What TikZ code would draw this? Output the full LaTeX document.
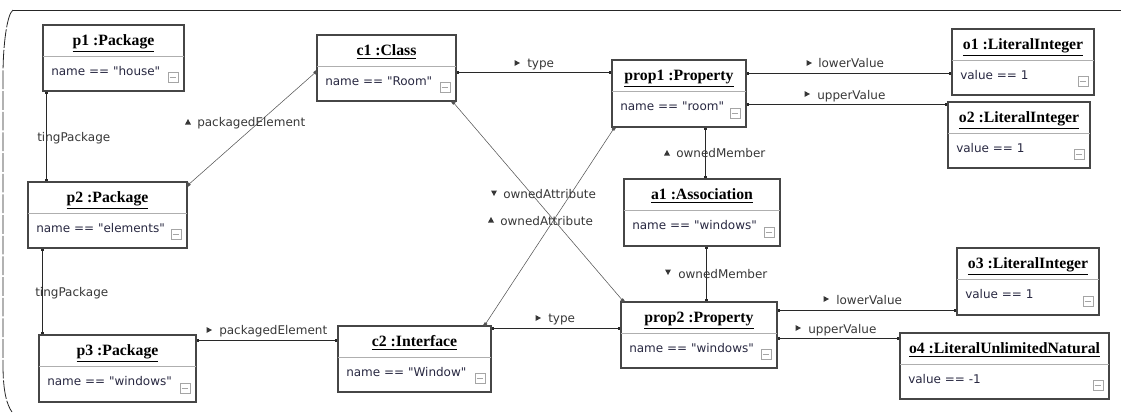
\documentclass[tikz,border=0pt]{standalone}
\usepackage{fontspec}
\setmainfont{DejaVu Sans}[Ligatures=TeXOff]
\newfontfamily\titlefont{Liberation Serif}
\usetikzlibrary{fit,calc,arrows.meta}

\definecolor{boxline}{RGB}{70,70,70}
\definecolor{divline}{RGB}{175,175,175}
\definecolor{bodyink}{RGB}{40,40,65}
\definecolor{labelink}{RGB}{55,55,55}
\definecolor{wireink}{RGB}{40,40,40}
\definecolor{iconline}{RGB}{165,165,165}

\tikzset{
  objbox/.style={draw=boxline, line width=0.8pt, inner sep=0pt, fill=white},
  divider/.style={draw=divline, line width=0.75pt},
  titletext/.style={font=\titlefont\bfseries\fontsize{11.8}{12}\selectfont,
    inner sep=0pt, text=black, text height=7.8pt, text depth=0pt},
  bodytext/.style={font=\fontsize{9}{10}\selectfont, text=bodyink, inner sep=0pt,
    anchor=west, text height=6.6pt, text depth=0pt},
  linklabel/.style={font=\fontsize{9}{10}\selectfont, text=labelink, inner sep=0pt,
    anchor=west, text height=6.6pt, text depth=0pt},
  wire/.style={draw=wireink, line width=0.75pt,
    arrows={Square[length=2.2pt,width=2.2pt]-Square[length=2.2pt,width=2.2pt]}},
  thinwire/.style={draw=wireink!80, line width=0.4pt,
    arrows={Square[length=2.2pt,width=2.2pt]-Square[length=2.2pt,width=2.2pt]}},
  foldbox/.style={draw=iconline, line width=0.5pt, fill=white,
    minimum size=7.5pt, inner sep=0pt},
  framewire/.style={draw=black!85, line width=0.6pt},
}

% object box: name, left, top, right, bottom, title, attribute line
\newcommand\umlobject[7]{%
  \node[objbox, fit={(#2,#3) (#4,#5)}] (#1) {};
  \draw[divider] (#2,#3+31) -- (#4,#3+31);
  \node[titletext] (#1-title) at ($(#1.north)+(0,16.3)$) {\underline{#6}};
  \node[bodytext] (#1-body) at (#2+8,#3+46.5) {#7};
  \node[foldbox] (#1-fold) at (#4-11,#5-13.5) {};
  \draw[iconline, line width=0.5pt] ($(#1-fold.west)+(2,0)$) -- ($(#1-fold.east)+(-2,0)$);
}

% small filled direction marker: x, y, angle (0 = right, 90 = up)
\newcommand\pointer[3]{%
  \fill[labelink, shift={(#1,#2)}, rotate=#3] (-2.5,-3) -- (-2.5,3) -- (3,0) -- cycle;}

\begin{document}
\begin{tikzpicture}[x=0.75pt, y=-0.75pt]
\useasboundingbox (0,0) rectangle (1121,412);

% enclosing frame
\draw[framewire] (1121,10) -- (13,10);
\draw[framewire, dash pattern=on 14pt off 1.5pt]
  (13,10) .. controls (7,14) and (3,45) .. (3,75) -- (3,365)
  .. controls (3,392) and (7,405) .. (12,412);

% objects
\umlobject{p1}{43}{25}{184}{91}{p1 :Package}{name == "house"}
\umlobject{p2}{28}{182}{187}{248}{p2 :Package}{name == "elements"}
\umlobject{p3}{39}{335}{196}{402}{p3 :Package}{name == "windows"}
\umlobject{c1}{317}{35}{456}{101}{c1 :Class}{name == "Room"}
\umlobject{c2}{338}{326}{491}{392}{c2 :Interface}{name == "Window"}
\umlobject{prop1}{612}{60}{746}{127}{prop1 :Property}{name == "room"}
\umlobject{a1}{624}{179}{780}{246}{a1 :Association}{name == "windows"}
\umlobject{prop2}{621}{302}{777}{368}{prop2 :Property}{name == "windows"}
\umlobject{o1}{952}{29}{1094}{95}{o1 :LiteralInteger}{value == 1}
\umlobject{o2}{948}{102}{1090}{168}{o2 :LiteralInteger}{value == 1}
\umlobject{o3}{957}{248}{1099}{315}{o3 :LiteralInteger}{value == 1}
\umlobject{o4}{900}{333}{1109}{399}{o4 :LiteralUnlimitedNatural}{value == -1}

% links
\draw[wire] ($(p1.south west)+(4,0)$) -- ($(p2.north west)+(19,0)$);
\draw[wire] ($(p2.south west)+(15,0)$) -- ($(p3.north west)+(4,0)$);
\draw[thinwire] ($(p2.north east)+(0,4)$) -- ($(c1.north west)+(0,37)$);
\draw[wire] ($(p3.north east)+(0,6)$) -- ($(c2.north west)+(0,15)$);
\draw[wire] ($(c1.north east)+(0,38)$) -- ($(prop1.north west)+(0,13)$);
\draw[thinwire] ($(c1.south east)+(-4,0)$) -- ($(prop2.north west)+(3,0)$);
\draw[thinwire] ($(c2.north east)+(-7,0)$) -- ($(prop1.south west)+(3,0)$);
\draw[wire] ($(c2.north east)+(0,3)$) -- ($(prop2.north west)+(0,27)$);
\draw[wire] ($(prop1.north east)+(0,14)$) -- ($(o1.north west)+(0,45)$);
\draw[wire] ($(prop1.north east)+(0,45)$) -- ($(o2.north west)+(0,3)$);
\draw[wire] ($(prop1.south west)+(94,0)$) -- ($(a1.north west)+(82,0)$);
\draw[wire] ($(a1.south west)+(83,0)$) -- ($(prop2.north west)+(86,0)$);
\draw[wire] ($(prop2.north east)+(0,9)$) -- ($(o3.north west)+(0,63)$);
\draw[wire] ($(prop2.north east)+(0,37)$) -- ($(o4.north west)+(0,6)$);

% link labels
\node[linklabel] (l-own1) at (37,137) {tingPackage};
\node[linklabel] (l-own2) at (35,292.5) {tingPackage};
\pointer{188}{122}{90}
\node[linklabel] (l-pe1) at (197,122.5) {packagedElement};
\pointer{209}{330}{0}
\node[linklabel] (l-pe2) at (219,330) {packagedElement};
\pointer{517}{63}{0}
\node[linklabel] (l-type1) at (527,63) {type};
\pointer{494}{193}{-90}
\node[linklabel] (l-oa1) at (503,194) {ownedAttribute};
\pointer{491}{220}{90}
\node[linklabel] (l-oa2) at (500,221) {ownedAttribute};
\pointer{538}{318}{0}
\node[linklabel] (l-type2) at (548,318) {type};
\pointer{809}{63}{0}
\node[linklabel] (l-lv1) at (818,63.5) {lowerValue};
\pointer{807}{94}{0}
\node[linklabel] (l-uv1) at (817,95) {upperValue};
\pointer{667}{153}{90}
\node[linklabel] (l-om1) at (676,153) {ownedMember};
\pointer{668}{272}{-90}
\node[linklabel] (l-om2) at (678,274) {ownedMember};
\pointer{826}{299}{0}
\node[linklabel] (l-lv2) at (836,300) {lowerValue};
\pointer{798}{328}{0}
\node[linklabel] (l-uv2) at (808,329) {upperValue};
\end{tikzpicture}
\end{document}
